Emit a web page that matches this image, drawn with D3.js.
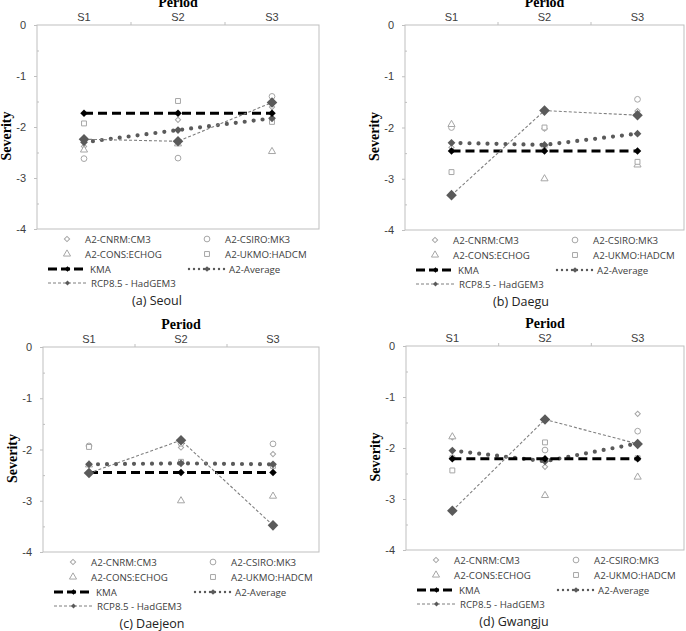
<!DOCTYPE html>
<html>
<head>
<meta charset="utf-8">
<script src="https://cdn.jsdelivr.net/npm/d3@7"></script>
<style>
  body { margin: 0; background: #fff; }
  svg { display: block; }
</style>
</head>
<body>
<svg id="chart" width="686" height="631"></svg>
<script>
// values, one row per city, columns S1..S3
const periods = ["S1", "S2", "S3"]
const captions = ["(a) Seoul", "(b) Daegu", "(c) Daejeon", "(d) Gwangju"]
const yTicks = [0, -1, -2, -3, -4]
const yMinor = [-0.5, -1.5, -2.5, -3.5]

const cnrm = [[-2.38, -1.86, -1.61], [-2.39, -2.02, -1.68], [-2.28, -1.96, -2.09], [-1.79, -2.37, -1.33]]
const csiro = [[-2.62, -2.61, -1.40], [-2.00, -2.37, -1.45], [-1.93, -1.88, -1.89], [-2.19, -2.04, -1.67]]
const cons = [[-2.45, -2.33, -2.48], [-1.94, -3.00, -2.73], [-2.30, -3.00, -2.91], [-1.78, -2.93, -2.57]]
const ukmo = [[-1.93, -1.49, -1.90], [-2.87, -2.00, -2.67], [-1.95, -2.24, -2.32], [-2.44, -1.89, -2.20]]
const kma = [[-1.73, -1.73, -1.73], [-2.46, -2.46, -2.46], [-2.45, -2.45, -2.45], [-2.21, -2.21, -2.21]]
const a2Avg = [[-2.30, -2.06, -1.83], [-2.30, -2.34, -2.12], [-2.29, -2.27, -2.29], [-2.05, -2.26, -1.91]]
const rcp85 = [[-2.24, -2.28, -1.52], [-3.32, -1.67, -1.76], [-2.46, -1.82, -3.48], [-3.23, -1.44, -1.92]]

// panel boxes (plot area) and caption centre
const layout = [
  {l: 37, r: 319, t: 25, b: 229, capX: 157},
  {l: 405, r: 684, t: 25, b: 230, capX: 521},
  {l: 43, r: 319, t: 347, b: 552, capX: 152},
  {l: 406, r: 684, t: 346, b: 550, capX: 514},
]

const GRID = "#bfbfbf"
const TXT = "#404040"
const PT = "#a6a6a6"
const MID = "#5a5a5a"

const scatterSeries = [
  {name: "A2-CNRM:CM3", data: cnrm, sym: "diamond"},
  {name: "A2-CSIRO:MK3", data: csiro, sym: "circle"},
  {name: "A2-CONS:ECHOG", data: cons, sym: "triangle"},
  {name: "A2-UKMO:HADCM", data: ukmo, sym: "square"},
]

const symPath = {
  diamond: d3.symbol(d3.symbolSquare, 14)(),
  circle: d3.symbol(d3.symbolCircle, 26)(),
  triangle: d3.symbol(d3.symbolTriangle, 22)(),
  square: d3.symbol(d3.symbolSquare, 24)(),
}
const diamond = (s) => d3.symbol(d3.symbolSquare, s)()

const svg = d3.select("#chart")

function hollow(g, sym, x, y) {
  g.append("path")
    .attr("d", symPath[sym])
    .attr("transform", `translate(${x},${y})` + (sym === "diamond" ? " rotate(45)" : ""))
    .attr("fill", "#fff")
    .attr("stroke", PT)
    .attr("stroke-width", 1)
}

function filledDiamond(g, x, y, size, fill) {
  g.append("path")
    .attr("d", diamond(size))
    .attr("transform", `translate(${x},${y}) rotate(45)`)
    .attr("fill", fill)
}

layout.forEach((p, ci) => {
  const g = svg.append("g")
  const x = d3.scaleBand().domain(periods).range([p.l, p.r])
  const cx = (d) => x(d) + x.bandwidth() / 2
  const y = d3.scaleLinear().domain([-4, 0]).range([p.b, p.t])

  g.append("rect")
    .attr("x", p.l).attr("y", p.t)
    .attr("width", p.r - p.l).attr("height", p.b - p.t)
    .attr("fill", "none").attr("stroke", GRID)

  // y axis
  const ya = g.append("g").attr("transform", `translate(${p.l},0)`)
    .call(d3.axisLeft(y).tickValues(yTicks).tickSize(3).tickPadding(8).tickFormat((d) => String(d)))
  ya.select(".domain").remove()
  ya.selectAll("line").attr("stroke", GRID)
  ya.selectAll("text").attr("font-family", "Liberation Sans, Arial, sans-serif")
    .attr("font-size", 11).attr("fill", TXT)

  const ym = g.append("g").attr("transform", `translate(${p.l},0)`)
    .call(d3.axisRight(y).tickValues(yMinor).tickSize(2).tickFormat(""))
  ym.select(".domain").remove()
  ym.selectAll("line").attr("stroke", GRID)

  // top category axis
  const xa = g.append("g").attr("transform", `translate(0,${p.t})`)
    .call(d3.axisTop(x).tickSize(0).tickPadding(4))
  xa.select(".domain").remove()
  xa.selectAll("text").attr("font-family", "Liberation Sans, Arial, sans-serif")
    .attr("font-size", 11).attr("fill", TXT)
  g.selectAll(null).data(periods.slice(1)).join("line")
    .attr("x1", (d) => x(d)).attr("x2", (d) => x(d))
    .attr("y1", p.t - 3).attr("y2", p.t)
    .attr("stroke", GRID)

  g.append("text")
    .attr("x", (p.l + p.r) / 2).attr("y", p.t - 18)
    .attr("text-anchor", "middle")
    .attr("font-family", "Liberation Serif, Times New Roman, serif")
    .attr("font-weight", "bold").attr("font-size", 14)
    .text("Period")

  g.append("text")
    .attr("transform", `translate(${p.l - 31},${(p.t + p.b) / 2 + 9}) rotate(-90)`)
    .attr("text-anchor", "middle").attr("dominant-baseline", "central")
    .attr("font-family", "Liberation Serif, Times New Roman, serif")
    .attr("font-weight", "bold").attr("font-size", 14)
    .text("Severity")

  // scatter of the A2 models
  scatterSeries.forEach((s) => {
    periods.forEach((d, j) => hollow(g, s.sym, cx(d), y(s.data[ci][j])))
  })

  const line = (vals) => d3.line().x((d, j) => cx(periods[j])).y((d) => y(d))(vals)

  // A2 average: round dots
  g.append("path").attr("d", line(a2Avg[ci]))
    .attr("fill", "none").attr("stroke", MID).attr("stroke-width", 4.2)
    .attr("stroke-linecap", "round").attr("stroke-dasharray", "0,9")
  periods.forEach((d, j) => filledDiamond(g, cx(d), y(a2Avg[ci][j]), 30, MID))

  // KMA observed
  g.append("path").attr("d", line(kma[ci]))
    .attr("fill", "none").attr("stroke", "#000").attr("stroke-width", 3)
    .attr("stroke-dasharray", "9,5")
  periods.forEach((d, j) => filledDiamond(g, cx(d), y(kma[ci][j]), 28, "#000"))

  // RCP8.5 HadGEM3
  g.append("path").attr("d", line(rcp85[ci]))
    .attr("fill", "none").attr("stroke", "#7f7f7f").attr("stroke-width", 1.1)
    .attr("stroke-dasharray", "3,2")
  periods.forEach((d, j) => filledDiamond(g, cx(d), y(rcp85[ci][j]), 56, MID))

  // legend
  const lg = g.append("g")
  const rows = [p.b + 10, p.b + 25, p.b + 40, p.b + 54]
  const col1 = p.l + 30, col2 = p.l + 170
  const legText = (tx, ty, s) => lg.append("text").attr("x", tx).attr("y", ty)
    .attr("dominant-baseline", "central")
    .attr("font-family", "Open Sans, Noto Sans, sans-serif")
    .attr("font-size", 9.7).attr("fill", TXT).text(s)

  scatterSeries.forEach((s, k) => {
    const ly = rows[Math.floor(k / 2)]
    const lx = k % 2 === 0 ? col1 : col2
    hollow(lg, s.sym, lx, ly)
    legText(lx + 18, ly, s.name)
  })

  const sample = (x0, x1, ly, stroke, width, dash, cap, msize, mfill) => {
    lg.append("line").attr("x1", x0).attr("x2", x1).attr("y1", ly).attr("y2", ly)
      .attr("stroke", stroke).attr("stroke-width", width)
      .attr("stroke-dasharray", dash).attr("stroke-linecap", cap)
    filledDiamond(lg, (x0 + x1) / 2, ly, msize, mfill)
  }
  sample(p.l + 11, p.l + 50, rows[2], "#000", 3, "9,4", "butt", 16, "#000")
  legText(p.l + 53, rows[2], "KMA")
  sample(p.l + 152, p.l + 188, rows[2], MID, 2.4, "0,5", "round", 16, MID)
  legText(p.l + 192, rows[2], "A2-Average")
  sample(p.l + 11, p.l + 50, rows[3], "#7f7f7f", 1, "3,2", "butt", 12, MID)
  legText(p.l + 54, rows[3], "RCP8.5 - HadGEM3")

  g.append("text")
    .attr("x", p.capX).attr("y", p.b + 71)
    .attr("text-anchor", "middle").attr("dominant-baseline", "central")
    .attr("font-family", "Open Sans, Noto Sans, sans-serif")
    .attr("font-size", 12.5).attr("fill", "#222")
    .text(captions[ci])
})
</script>
</body>
</html>
